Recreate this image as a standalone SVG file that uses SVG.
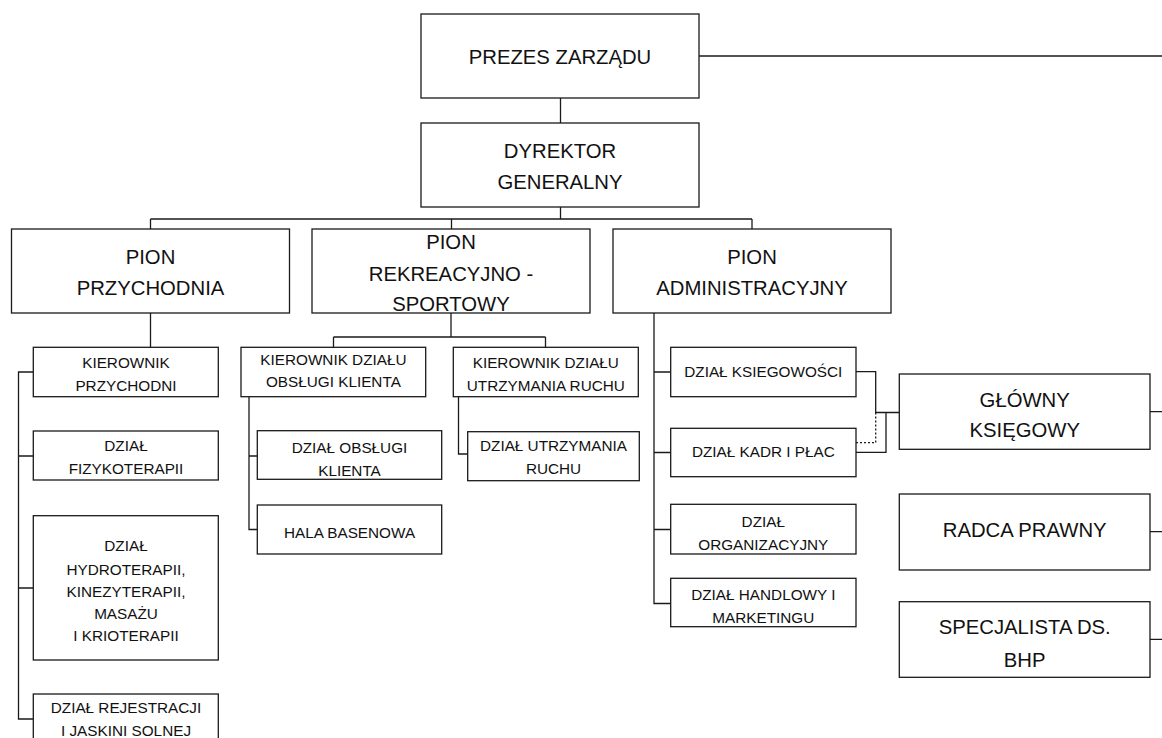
<svg xmlns="http://www.w3.org/2000/svg" width="1162" height="738" viewBox="0 0 1162 738">
<style>
rect{fill:#fff;stroke:#1a1a1a;stroke-width:1.3}
.c path{fill:none;stroke:#1a1a1a;stroke-width:1.3}
.c .dot{stroke-dasharray:2 2}
text{font-family:"Liberation Sans",Arial,sans-serif;fill:#111;text-anchor:middle}
.b{font-size:20.3px}
.s{font-size:15.3px}
</style>
<rect x="0" y="0" width="1162" height="738" style="fill:#fff;stroke:none"/>
<g class="c" id="connectors">
<path d="M699 56H1162"/>
<path d="M560.5 98V123"/>
<path d="M560.5 207V219M150.5 219H752M150.5 219V229M451.5 219V229M752 219V229"/>
<path d="M150.5 313V347"/>
<path d="M33 372H18.5V719H33M18.5 456H33M18.5 588H33"/>
<path d="M451 313V337M333.5 337H545.5M333.5 337V347M545.5 337V347"/>
<path d="M249 397V529.5H257M249 456H257"/>
<path d="M458.5 397V454H467.5"/>
<path d="M654 313V603.5H670.5M654 372H670.5M654 452.5H670.5M654 529.5H670.5"/>
<path d="M856 371.7H875.7V412.5H899"/>
<path d="M856 452.3H886V412.5"/>
<path class="dot" d="M856 442.7H875.7V412.5"/>
<path d="M1150 411.7H1162M1150 531.7H1162M1150 639.3H1162"/>
</g>
<g id="n-prezes"><rect x="421" y="14" width="278" height="84"/><text class="b" x="560" y="64">PREZES ZARZĄDU</text></g>
<g id="n-dyrektor"><rect x="421" y="123" width="278" height="84"/><text class="b" x="560" y="158">DYREKTOR</text><text class="b" x="560" y="189">GENERALNY</text></g>
<g id="n-pion-przychodnia"><rect x="11.5" y="229" width="278" height="84"/><text class="b" x="150.5" y="264">PION</text><text class="b" x="150.5" y="295">PRZYCHODNIA</text></g>
<g id="n-pion-rekreacyjno"><rect x="312" y="229" width="278" height="84"/><text class="b" x="451" y="249">PION</text><text class="b" x="451" y="280.5">REKREACYJNO -</text><text class="b" x="451" y="310.5">SPORTOWY</text></g>
<g id="n-pion-admin"><rect x="613" y="229" width="278" height="84"/><text class="b" x="752" y="264">PION</text><text class="b" x="752" y="295">ADMINISTRACYJNY</text></g>
<g id="n-kier-przychodni"><rect x="33.3" y="347.3" width="185" height="49.4"/><text class="s" x="126" y="367.7">KIEROWNIK</text><text class="s" x="126" y="390.7">PRZYCHODNI</text></g>
<g id="n-fizyko"><rect x="33.3" y="431" width="185" height="49"/><text class="s" x="126" y="451.3">DZIAŁ</text><text class="s" x="126" y="474">FIZYKOTERAPII</text></g>
<g id="n-hydro"><rect x="33.3" y="515.7" width="185" height="144.3"/><text class="s" x="126" y="551.3">DZIAŁ</text><text class="s" x="126" y="574.5">HYDROTERAPII,</text><text class="s" x="126" y="596.7">KINEZYTERAPII,</text><text class="s" x="126" y="619.3">MASAŻU</text><text class="s" x="126" y="640.7">I KRIOTERAPII</text></g>
<g id="n-rejestracji"><rect x="33.3" y="694" width="185" height="60"/><text class="s" x="126" y="713.3">DZIAŁ REJESTRACJI</text><text class="s" x="126" y="736">I JASKINI SOLNEJ</text></g>
<g id="n-kier-obslugi"><rect x="241" y="347.3" width="184.7" height="49.4"/><text class="s" x="333.4" y="365">KIEROWNIK DZIAŁU</text><text class="s" x="333.4" y="386.7">OBSŁUGI KLIENTA</text></g>
<g id="n-kier-utrzymania"><rect x="453.3" y="347.3" width="185" height="49.4"/><text class="s" x="545.8" y="368.3">KIEROWNIK DZIAŁU</text><text class="s" x="545.8" y="390.7">UTRZYMANIA RUCHU</text></g>
<g id="n-obslugi"><rect x="257.3" y="430.7" width="184.4" height="48.6"/><text class="s" x="349.5" y="452.7">DZIAŁ OBSŁUGI</text><text class="s" x="349.5" y="476">KLIENTA</text></g>
<g id="n-hala"><rect x="257.3" y="505" width="184.4" height="49"/><text class="s" x="349.5" y="538.3">HALA BASENOWA</text></g>
<g id="n-utrzymania"><rect x="467.7" y="431.7" width="171.6" height="49"/><text class="s" x="553.5" y="450.7">DZIAŁ UTRZYMANIA</text><text class="s" x="553.5" y="474">RUCHU</text></g>
<g id="n-ksiegowosci"><rect x="670.7" y="347.3" width="185.3" height="49.4"/><text class="s" x="763.3" y="376.7">DZIAŁ KSIEGOWOŚCI</text></g>
<g id="n-kadr"><rect x="670.7" y="428.3" width="185.3" height="48.4"/><text class="s" x="763.3" y="457.3">DZIAŁ KADR I PŁAC</text></g>
<g id="n-organizacyjny"><rect x="670.7" y="504.3" width="185.3" height="49.7"/><text class="s" x="763.3" y="526.7">DZIAŁ</text><text class="s" x="763.3" y="550">ORGANIZACYJNY</text></g>
<g id="n-handlowy"><rect x="670.7" y="578.3" width="185.3" height="48.4"/><text class="s" x="763.3" y="600">DZIAŁ HANDLOWY I</text><text class="s" x="763.3" y="622.7">MARKETINGU</text></g>
<g id="n-glowny"><rect x="899.3" y="374" width="250.7" height="75.3"/><text class="b" x="1024.7" y="407.3">GŁÓWNY</text><text class="b" x="1024.7" y="437.3">KSIĘGOWY</text></g>
<g id="n-radca"><rect x="899.3" y="494" width="250.7" height="76"/><text class="b" x="1024.7" y="536.7">RADCA PRAWNY</text></g>
<g id="n-bhp"><rect x="899.3" y="601.7" width="250.7" height="75.6"/><text class="b" x="1024.7" y="634.3">SPECJALISTA DS.</text><text class="b" x="1024.7" y="666.7">BHP</text></g>
</svg>
